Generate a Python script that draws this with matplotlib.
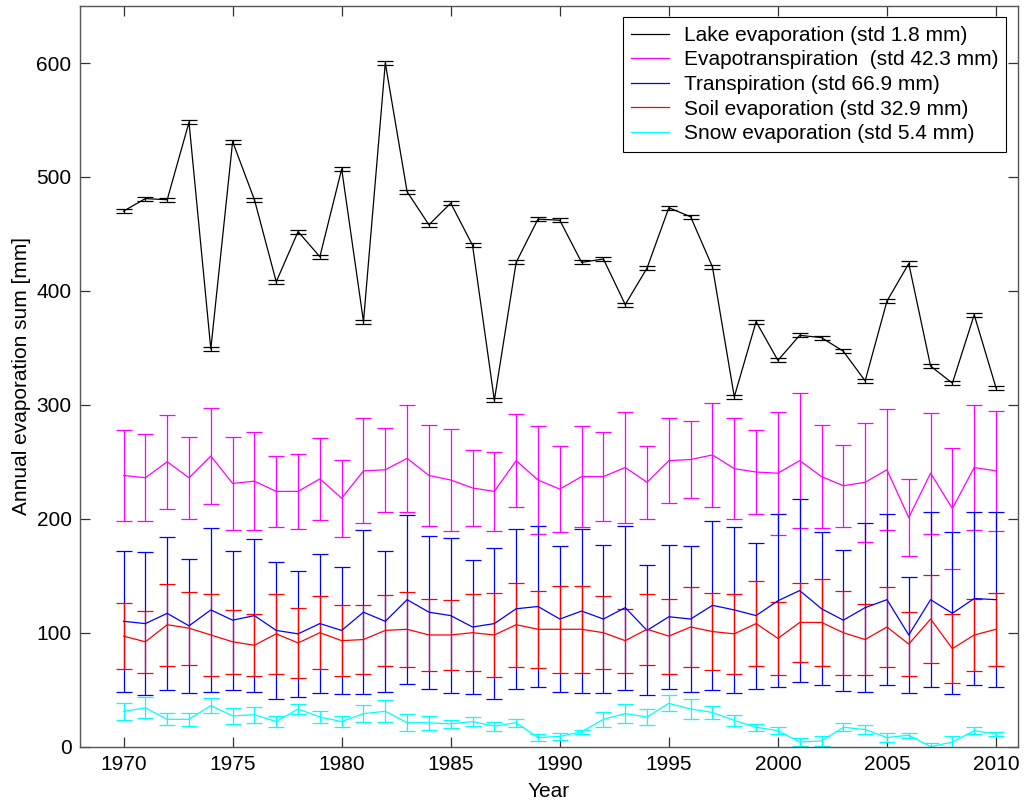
import numpy as np
import matplotlib.pyplot as plt

plt.rcParams['font.family'] = ['Liberation Sans', 'DejaVu Sans']

years = np.arange(1970, 2011)

# annual sums [mm]
lake = [470, 481, 480, 548, 349, 531, 480, 408, 452, 430,
        507, 373, 600, 487, 458, 477, 440, 304, 425, 463,
        462, 425, 428, 388, 420, 473, 465, 421, 307, 373,
        339, 361, 359, 347, 321, 391, 424, 334, 319, 379, 315]
lake_err = [1.8] * 41

et = [238, 236, 250, 236, 255, 231, 233, 224, 224, 235,
      218, 242, 243, 253, 238, 234, 227, 224, 251, 234,
      226, 237, 237, 245, 232, 251, 252, 256, 244, 241,
      240, 251, 237, 229, 232, 243, 201, 240, 209, 245, 242]
et_err = [40, 38, 41, 36, 42, 41, 43, 31, 33, 36,
          34, 46, 37, 47, 44, 45, 33, 35, 41, 47,
          38, 44, 39, 49, 32, 37, 34, 46, 44, 37,
          54, 59, 45, 36, 52, 53, 34, 53, 53, 55, 53]

transp = [110, 108, 117, 106, 120, 111, 115, 102, 99, 108,
          102, 118, 110, 129, 118, 115, 105, 108, 121, 123,
          112, 119, 112, 122, 102, 114, 112, 124, 120, 115,
          128, 137, 121, 111, 122, 129, 98, 129, 117, 130, 129]
transp_err = [62, 63, 67, 59, 72, 61, 67, 60, 55, 61,
              56, 72, 62, 74, 67, 68, 59, 66, 70, 71,
              64, 72, 65, 72, 57, 63, 64, 74, 73, 64,
              76, 80, 67, 62, 74, 75, 51, 77, 71, 76, 77]

soil = [97, 92, 107, 104, 98, 92, 89, 99, 91, 100,
        93, 94, 102, 103, 98, 98, 100, 98, 107, 103,
        103, 103, 100, 93, 103, 97, 105, 101, 99, 108,
        95, 109, 109, 100, 94, 105, 90, 112, 86, 98, 103]
soil_err = [29, 27, 36, 32, 36, 28, 27, 35, 31, 32,
            31, 30, 31, 33, 32, 31, 34, 37, 37, 34,
            38, 38, 32, 28, 31, 33, 35, 34, 35, 37,
            32, 35, 38, 37, 31, 35, 28, 39, 30, 32, 32]

snow = [31, 34, 24, 24, 36, 27, 28, 22, 33, 26,
        22, 29, 31, 21, 21, 20, 22, 18, 21, 8,
        9, 13, 24, 29, 26, 38, 33, 30, 23, 17,
        14, 4, 5, 17, 15, 8, 10, 0, 4, 14, 11]
snow_err = [7.5, 9.3, 5.3, 5.5, 6.7, 7.2, 7.2, 5.1, 4.5, 5.3,
            4.5, 7.6, 9.6, 7.6, 6, 3.4, 4.3, 4, 3.5, 3.1,
            3.1, 2, 6.5, 8.3, 6.6, 6.9, 8.7, 5.5, 4.7, 3,
            2.8, 3.4, 4.5, 3.4, 3.7, 3.8, 2, 3, 5, 2.8, 2]

series = [
    (lake, lake_err, 'k', 'Lake evaporation (std 1.8 mm)'),
    (et, et_err, '#ff00ff', 'Evapotranspiration  (std 42.3 mm)'),
    (transp, transp_err, '#0000ff', 'Transpiration (std 66.9 mm)'),
    (soil, soil_err, '#ff0000', 'Soil evaporation (std 32.9 mm)'),
    (snow, snow_err, '#00ffff', 'Snow evaporation (std 5.4 mm)'),
]

fig = plt.figure(figsize=(10.25, 8.05), dpi=100)
ax = fig.add_axes([0.078, 0.0725, 0.915, 0.92])

handles = []
for vals, err, col, lab in series:
    eb = ax.errorbar(years, vals, yerr=err, color=col, lw=0.9, elinewidth=0.9,
                     capsize=6, capthick=0.9)
    handles.append(eb.lines[0])

ax.set_xlim(1968, 2011)
ax.set_ylim(0, 650)
ax.set_xticks(range(1970, 2011, 5))
ax.set_yticks(range(0, 601, 100))
ax.tick_params(direction='in', length=7, width=0.9, top=True, right=True,
               labelsize=15, color='#333333', pad=6)
for s in ax.spines.values():
    s.set_color('#555555')
    s.set_linewidth(1.0)

ax.set_xlabel('Year', fontsize=15, labelpad=6)
ax.set_ylabel('Annual evaporation sum [mm]', fontsize=15, labelpad=4)

leg = ax.legend(handles, [s[3] for s in series], loc='upper right', fontsize=15,
                frameon=True, fancybox=False, edgecolor='k', framealpha=1,
                handlelength=1.8, handletextpad=0.7, labelspacing=0.27,
                borderaxespad=0.55, borderpad=0.4)
leg.get_frame().set_linewidth(0.8)

fig.savefig('out.png', dpi=100)
